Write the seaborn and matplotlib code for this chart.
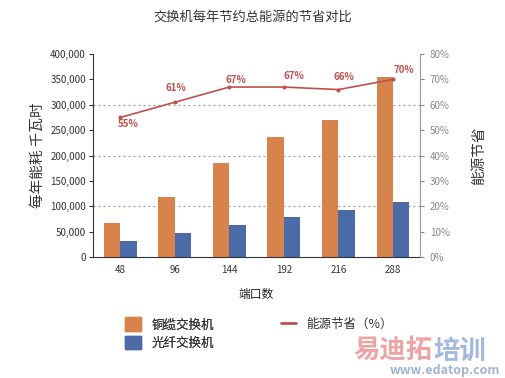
import numpy as np
import pandas as pd
import matplotlib.pyplot as plt
import seaborn as sns
from matplotlib.patches import Patch
from matplotlib.lines import Line2D
from matplotlib.ticker import FuncFormatter, MultipleLocator

sns.set_style("white")
plt.rcParams['font.family'] = ['Noto Sans CJK SC', 'DejaVu Sans']

# data
ports = ["48", "96", "144", "192", "216", "288"]
copper = [67000, 119000, 185000, 236000, 271000, 354000]
fiber = [31000, 47000, 63000, 78000, 93000, 108000]
savings = [55, 61, 67, 67, 66, 70]

copper_name = "铜缆交换机"
fiber_name = "光纤交换机"
line_name = "能源节省（%）"

df = pd.DataFrame({
    "端口数": ports * 2,
    "能耗": copper + fiber,
    "类型": [copper_name] * len(ports) + [fiber_name] * len(ports),
})

c_copper = "#d9834c"
c_fiber = "#4a6aa8"
c_line = "#c0504d"

fig = plt.figure(figsize=(5.05, 3.78), dpi=100)
ax = fig.add_axes([0.184, 0.320, 0.648, 0.537])

sns.barplot(data=df, x="端口数", y="能耗", hue="类型", ax=ax,
            palette=[c_copper, c_fiber], width=0.6, saturation=1,
            linewidth=0, legend=False)

ax.set_ylim(0, 400000)
ax.set_xlim(-0.5, len(ports) - 0.5)
ax.yaxis.set_major_locator(MultipleLocator(50000))
ax.yaxis.set_major_formatter(FuncFormatter(lambda v, p: f"{int(v):,}"))
ax.tick_params(axis='y', labelsize=7, colors="#333333", length=3, direction='out', pad=2)
ax.tick_params(axis='x', labelsize=7, colors="#333333", length=0, pad=6)
for y in [100000, 200000, 300000]:
    ax.axhline(y, color="#999999", linestyle=(0, (1.5, 2.5)), linewidth=0.9, zorder=0)
# tick marks between categories
ax.set_xticks(np.arange(-0.5, len(ports)), minor=True)
ax.tick_params(axis='x', which='minor', length=4, color="#333333")

for s in ["top", "right"]:
    ax.spines[s].set_visible(False)
ax.spines["left"].set_color("#333333")
ax.spines["bottom"].set_color("#333333")
ax.set_xlabel("端口数", fontsize=8.5, color="#222222", labelpad=9)
ax.set_ylabel("每年能耗 千瓦时", fontsize=10.5, color="#333333", labelpad=4)

ax2 = ax.twinx()
sns.pointplot(x=ports, y=savings, ax=ax2, color=c_line, markers="o",
              markersize=2, linewidth=1.2)
ax2.set_xlim(-0.5, len(ports) - 0.5)
ax2.set_ylim(0, 80)
ax2.yaxis.set_major_locator(MultipleLocator(10))
ax2.yaxis.set_major_formatter(FuncFormatter(lambda v, p: f"{int(v)}%"))
ax2.tick_params(axis='y', labelsize=7, colors="#888888", length=3, pad=4)
for lab in ax2.get_yticklabels():
    lab.set_fontstyle("italic")
for s in ["top", "left", "bottom"]:
    ax2.spines[s].set_visible(False)
ax2.spines["right"].set_color("#999999")
ax2.set_ylabel("能源节省", fontsize=10.5, color="#333333", labelpad=16)

# label offsets (points) as placed in the original
offsets = [(6, -5), (1, 10), (5, 5), (7, 8), (4, 9), (8, 7)]
for i, v in enumerate(savings):
    ax2.annotate(f"{v}%", (i, v), xytext=offsets[i],
                 textcoords="offset points", ha="center", va="center",
                 fontsize=7, fontweight="bold", color=c_line)

fig.text(0.5, 0.955, "交换机每年节约总能源的节省对比", ha="center", va="center",
         fontsize=9.5, color="#333333")

handles_left = [Patch(color=c_copper, label=copper_name), Patch(color=c_fiber, label=fiber_name)]
leg1 = fig.legend(handles=handles_left, loc="upper left", bbox_to_anchor=(0.225, 0.19),
                  frameon=False, fontsize=9, handlelength=1.3, handleheight=1.3,
                  labelspacing=0.35, handletextpad=0.8, labelcolor="#333333")
fig.add_artist(leg1)
fig.legend(handles=[Line2D([], [], color=c_line, linewidth=2, label=line_name)],
           loc="upper left", bbox_to_anchor=(0.535, 0.19), frameon=False, fontsize=9,
           handlelength=1.2, handletextpad=0.8, labelcolor="#333333")

# watermark
fig.text(0.70, 0.072, "易迪拓", fontsize=19, fontweight="bold", color="#e05a5a", alpha=0.55,
         ha="left", va="center")
fig.text(0.858, 0.072, "培训", fontsize=19, fontweight="bold", color="#5a7fc0", alpha=0.55,
         ha="left", va="center")
fig.text(0.99, 0.003, "www.edatop.com", fontsize=9, fontweight="bold", color="#8aa0c8",
         alpha=0.8, ha="right", va="bottom")

fig.savefig("out.png", dpi=100)
